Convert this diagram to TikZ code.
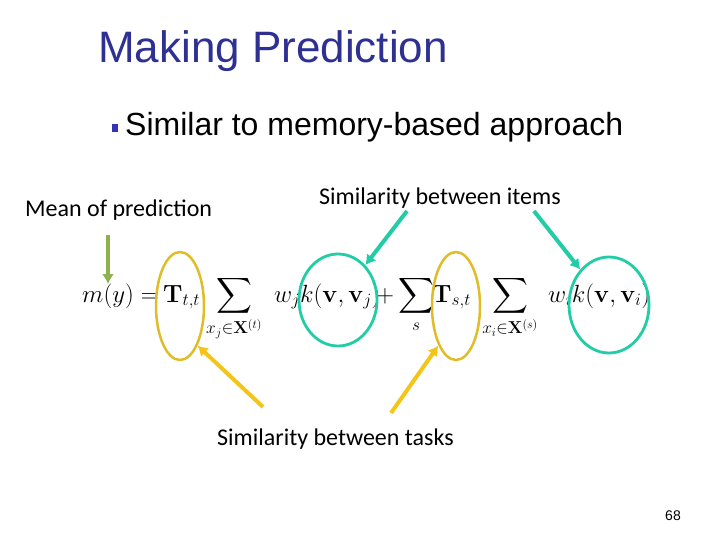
\documentclass[tikz,border=0pt]{standalone}
\usepackage{amsmath}
\usepackage[no-math]{fontspec}
\setmainfont{Liberation Sans}
\newfontfamily\calibri{Carlito}
\usetikzlibrary{shapes.geometric,arrows.meta}
\definecolor{titleblue}{HTML}{2E3192}
\definecolor{bulletblue}{HTML}{3333B8}
\definecolor{tealc}{HTML}{22CCA6}
\definecolor{yellc}{HTML}{E0BC28}
\definecolor{yarrow}{HTML}{F5C418}
\definecolor{garrow}{HTML}{8CB250}
\tikzset{
  mathtxt/.style={inner sep=0pt, font=\fontsize{23}{27}\selectfont},
  lbl/.style={inner sep=0pt, font=\calibri\fontsize{24}{28}\selectfont},
  yellip/.style={ellipse, draw=yellc, line width=2.5pt, inner sep=0pt, minimum width=48pt, minimum height=108pt},
  tellip/.style={ellipse, draw=tealc, line width=2.8pt, inner sep=0pt},
  arr/.style={line width=4pt, -{Latex[length=10pt,width=12pt]}},
}
\begin{document}
\begin{tikzpicture}[x=1pt,y=-1pt]
\useasboundingbox (0,0) rectangle (720,540);
% title and bullet
\node[anchor=base west, inner sep=0pt, text=titleblue, font=\fontsize{44}{50}\selectfont] (title) at (98,63) {Making Prediction};
\node[fill=bulletblue, minimum width=6pt, minimum height=8pt, inner sep=0pt] (bul) at (115,128) {};
\node[anchor=base west, inner sep=0pt, font=\fontsize{32}{38}\selectfont] (btxt) at (125,136) {Similar to memory-based approach};
% labels
\node[lbl, anchor=base west] (mean) at (25,217) {Mean of prediction};
\node[lbl, anchor=base west] (items) at (319,205) {Similarity between items};
\node[lbl, anchor=base west] (tasks) at (217,445) {Similarity between tasks};
\node[anchor=base, inner sep=0pt, font=\fontsize{14}{16}\selectfont] (pg) at (673,520) {68};
% formula
\node[mathtxt, anchor=base west] (my) at (82,302) {$m(y) =$};
\node[mathtxt, anchor=base west] (T1) at (163,302) {$\mathbf{T}_{t,t}$};
\node[mathtxt, anchor=base] (S1) at (234,302) {$\displaystyle\sum_{x_j\in\mathbf{X}^{(t)}}$};
\node[mathtxt, anchor=base west] (K1) at (274,302) {$w_j k(\mathbf{v},\mathbf{v}_j)$};
\node[mathtxt, anchor=base west] (S2) at (376,302) {$+\displaystyle\sum_{s}$};
\node[mathtxt, anchor=base west] (T2) at (432,302) {$\mathbf{T}_{s,t}$};
\node[mathtxt, anchor=base] (S3) at (510,302) {$\displaystyle\sum_{x_i\in\mathbf{X}^{(s)}}$};
\node[mathtxt, anchor=base west] (K2) at (548,302) {$w_i k(\mathbf{v},\mathbf{v}_i)$};
% ellipses
\node[yellip] (ye1) at (180,306) {};
\node[yellip] (ye2) at (456,306) {};
\node[tellip, minimum width=78pt, minimum height=92pt] (te1) at (338,300) {};
\node[tellip, minimum width=80pt, minimum height=96pt] (te2) at (609,305) {};
% arrow free ends
\coordinate (g0) at (108,235);
\coordinate (g1) at (108,284);
\coordinate (t0) at (407,211);
\coordinate (t1) at (534,211);
\coordinate (y0) at (263,407);
\coordinate (y1) at (391,413);
% arrows
\draw[arr, garrow] (g0) -- (g1);
\draw[arr, tealc] (t0) -- (te1.52);
\draw[arr, tealc] (t1) -- (te2.129);
\draw[arr, yarrow] (y0) -- (ye1.-66);
\draw[arr, yarrow] (y1) -- (ye2.-114);
\end{tikzpicture}
\end{document}
